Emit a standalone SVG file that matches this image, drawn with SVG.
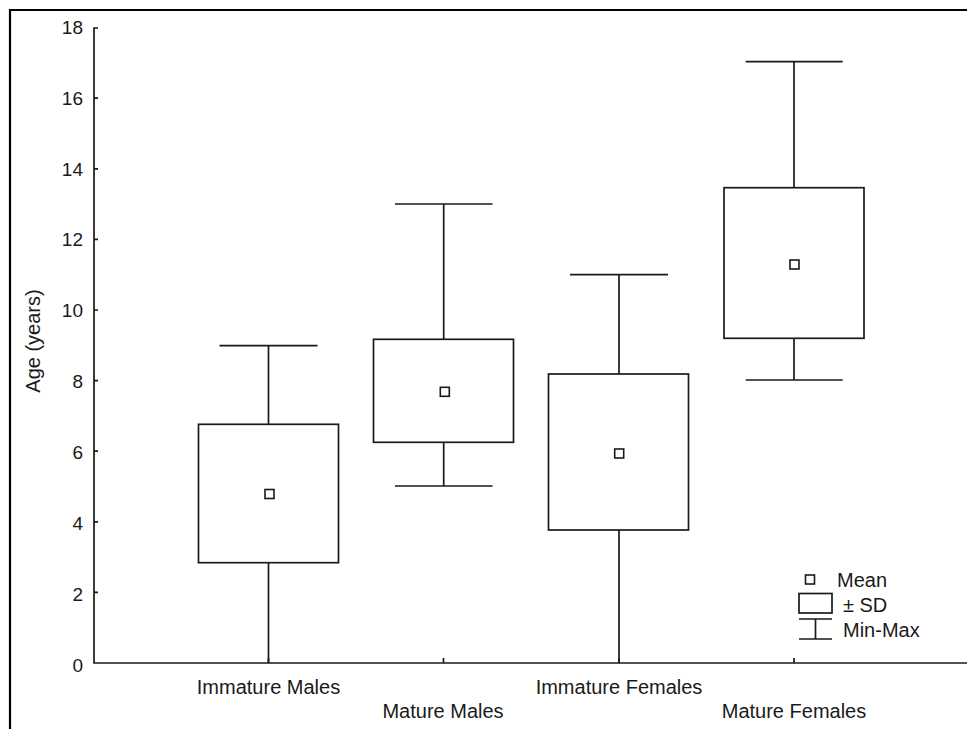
<svg xmlns="http://www.w3.org/2000/svg" width="967" height="729" viewBox="0 0 967 729">
<style>
text{font-family:"Liberation Sans",Arial,sans-serif;font-size:20px;fill:#1a1a1a}
.ln{stroke:#1a1a1a;stroke-width:1.7;fill:none}
.bx{stroke:#1a1a1a;stroke-width:1.7;fill:#fff}
.mn{stroke:#1a1a1a;stroke-width:1.6;fill:#fff}
.fr{stroke:#000;stroke-width:2.2;fill:none}
.tk{text-anchor:end;font-size:19px}
.ct{text-anchor:middle}
</style>
<rect width="967" height="729" fill="#fff"/>
<g id="frame">
<path class="fr" d="M10,729 V10 H967"/>
</g>
<g id="axes">
<path class="ln" d="M98,28 H94 V663 H967"/>
<path class="ln" d="M94,592.4 h4 M94,521.8 h4 M94,451.2 h4 M94,380.6 h4 M94,310 h4 M94,239.4 h4 M94,168.8 h4 M94,98.2 h4"/>
<path class="ln" d="M268.5,663 v-5 M443.5,663 v-5 M619,663 v-5 M794,663 v-5"/>
<g>
<text class="tk" x="83" y="672">0</text>
<text class="tk" x="83" y="601">2</text>
<text class="tk" x="83" y="530">4</text>
<text class="tk" x="83" y="459.2">6</text>
<text class="tk" x="83" y="388.3">8</text>
<text class="tk" x="83" y="317.4">10</text>
<text class="tk" x="83" y="246.4">12</text>
<text class="tk" x="83" y="175.5">14</text>
<text class="tk" x="83" y="104.5">16</text>
<text class="tk" x="83" y="33.5">18</text>
</g>
<text class="ct" transform="translate(40,341) rotate(-90)">Age (years)</text>
<text class="ct" x="268.5" y="694">Immature Males</text>
<text class="ct" x="443" y="718">Mature Males</text>
<text class="ct" x="619" y="694">Immature Females</text>
<text class="ct" x="794" y="718">Mature Females</text>
</g>
<g id="immature-males">
<path class="ln" d="M219.5,345.7 H317.5 M268.5,345.7 V663"/>
<rect class="bx" x="198.5" y="424.3" width="140" height="138.4"/>
<rect class="mn" x="265" y="489.5" width="9" height="9"/>
</g>
<g id="mature-males">
<path class="ln" d="M395,204 H492.5 M395,486 H492.5 M443.7,204 V486"/>
<rect class="bx" x="373.5" y="339.3" width="140" height="103"/>
<rect class="mn" x="440.3" y="387.3" width="9" height="9"/>
</g>
<g id="immature-females">
<path class="ln" d="M570,274.7 H668 M619,274.7 V663"/>
<rect class="bx" x="548.5" y="374" width="140" height="156"/>
<rect class="mn" x="614.7" y="449" width="9" height="9"/>
</g>
<g id="mature-females">
<path class="ln" d="M745.7,61.7 H842.7 M745.7,380 H842.7 M794,61.7 V380"/>
<rect class="bx" x="724" y="187.7" width="140" height="150.6"/>
<rect class="mn" x="790" y="260" width="9" height="9"/>
</g>
<g id="legend">
<rect class="mn" x="805.5" y="575" width="9" height="9"/>
<text x="837" y="587">Mean</text>
<rect class="bx" x="799" y="593.5" width="33" height="19.5"/>
<text x="843" y="612">± SD</text>
<path class="ln" d="M799,619 H832 M799,639 H832 M815.5,619 V639"/>
<text x="843" y="637">Min-Max</text>
</g>
</svg>
